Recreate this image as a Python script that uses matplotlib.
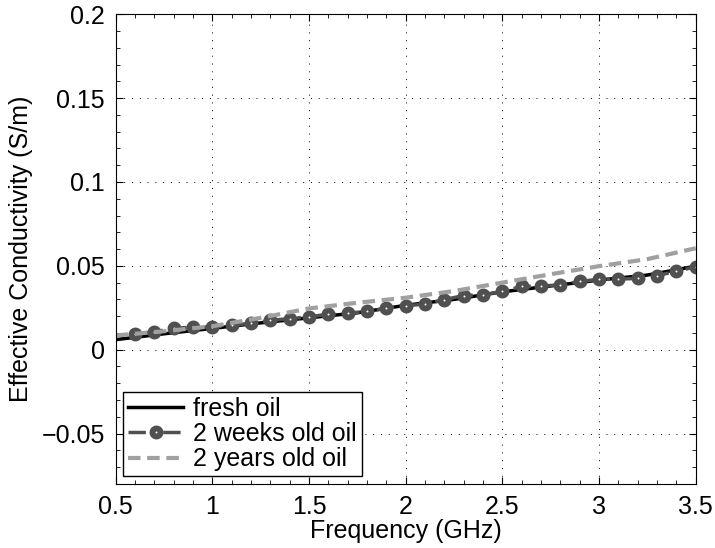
import numpy as np
import matplotlib
matplotlib.use("Agg")
from matplotlib import pyplot as plt
from matplotlib.ticker import MultipleLocator

# fresh oil (solid black)
f_fresh = [0.5, 0.75, 1.0, 1.25, 1.5, 1.75, 2.0, 2.25, 2.5, 2.75, 3.0, 3.25, 3.5]
s_fresh = [0.006, 0.0095, 0.0127, 0.016, 0.019, 0.022, 0.0265, 0.030, 0.0345,
           0.038, 0.0415, 0.0445, 0.0498]

# 2 weeks old oil (markers)
f_weeks = [0.6, 0.7, 0.8, 0.9, 1.0, 1.1, 1.2, 1.3, 1.4, 1.5, 1.6, 1.7, 1.8, 1.9,
           2.0, 2.1, 2.2, 2.3, 2.4, 2.5, 2.6, 2.7, 2.8, 2.9, 3.0, 3.1, 3.2, 3.3,
           3.4, 3.5]
s_weeks = [0.0095, 0.0107, 0.0127, 0.0135, 0.0135, 0.0147, 0.0157, 0.0175,
           0.0186, 0.0196, 0.0212, 0.0218, 0.0228, 0.0247, 0.0262, 0.0272,
           0.0299, 0.0323, 0.0327, 0.0349, 0.0377, 0.0379, 0.0387, 0.0407,
           0.0420, 0.0421, 0.0425, 0.0441, 0.0468, 0.0494]

# 2 years old oil (light dashed)
f_years = [0.5, 0.75, 1.0, 1.25, 1.5, 1.75, 2.0, 2.25, 2.5, 2.75, 3.0, 3.25, 3.5]
s_years = [0.0085, 0.011, 0.014, 0.019, 0.0246, 0.028, 0.031, 0.035, 0.040,
           0.045, 0.0498, 0.054, 0.0605]

xticks = [0.5, 1, 1.5, 2, 2.5, 3, 3.5]
xticklabels = ["0.5", "1", "1.5", "2", "2.5", "3", "3.5"]
yticks = [-0.05, 0, 0.05, 0.1, 0.15, 0.2]
yticklabels = ["\u22120.05", "0", "0.05", "0.1", "0.15", "0.2"]

plt.rcParams["font.family"] = ["Liberation Sans", "DejaVu Sans"]
plt.rcParams["font.size"] = 18

fig = plt.figure(figsize=(7.15, 5.48), dpi=100)
ax = fig.add_axes([0.162, 0.117, 0.811, 0.857])

ax.plot(f_fresh, s_fresh, color="black", lw=2.5, label="fresh oil")
ax.plot(f_weeks, s_weeks, color="#505050", lw=2.5, ls=(0, (5, 2, 1, 2)), marker="o",
        ms=5.8, mfc="white", mec="#505050", mew=4.2, label="2 weeks old oil")
ax.plot(f_years, s_years, color="#a0a0a0", lw=3, ls=(0, (3, 1.6)),
        label="2 years old oil")

ax.set_xlim(0.5, 3.5)
ax.set_ylim(-0.08, 0.2)
ax.set_xticks(xticks)
ax.set_xticklabels(xticklabels)
ax.set_yticks(yticks)
ax.set_yticklabels(yticklabels)
ax.xaxis.set_minor_locator(MultipleLocator(0.1))
ax.yaxis.set_minor_locator(MultipleLocator(0.01))
ax.tick_params(which="both", direction="in", top=True, right=True)
ax.tick_params(which="major", length=5, pad=8)
ax.tick_params(which="minor", length=3)
ax.grid(True, which="major", color="black", ls=(0, (1, 7)), lw=0.7)

ax.set_xlabel("Frequency (GHz)", labelpad=0)
ax.set_ylabel("Effective Conductivity (S/m)", labelpad=6)

leg = ax.legend(loc="lower left", fancybox=False, edgecolor="black",
                framealpha=1, handlelength=2.2, handletextpad=0.4,
                borderaxespad=0.3, borderpad=0.2, labelspacing=0.05)
leg.get_frame().set_linewidth(1.0)

fig.savefig("out.png", dpi=100)
